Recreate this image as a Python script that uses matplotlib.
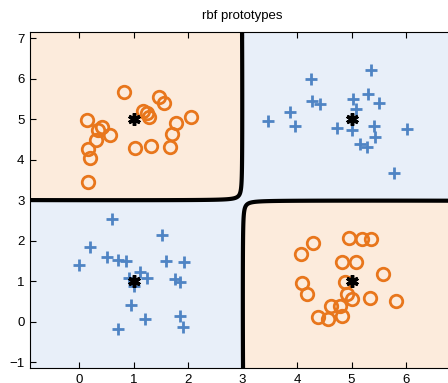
import numpy as np
import matplotlib.pyplot as plt

plt.rcParams['font.family'] = ['Liberation Sans', 'DejaVu Sans']

# class 1 (orange circles)
c1_x = [0.83, 0.15, 0.43, 0.34, 0.57, 0.31, 0.17, 0.21, 0.17, 1.03, 1.32, 1.18, 1.24, 1.29,
        1.46, 1.56, 1.78, 1.71, 1.67, 2.05,
        4.95, 5.20, 5.35, 4.30, 4.07, 4.83, 5.09, 5.57, 4.09, 4.88, 4.18, 4.91, 5.01, 5.34,
        5.81, 4.62, 4.78, 4.39, 4.57, 4.82]
c1_y = [5.68, 4.98, 4.82, 4.75, 4.61, 4.49, 4.26, 4.05, 3.45, 4.30, 4.34, 5.20, 5.15, 5.07,
        5.56, 5.41, 4.90, 4.64, 4.31, 5.05,
        2.08, 2.04, 2.04, 1.95, 1.67, 1.47, 1.47, 1.17, 0.95, 0.98, 0.68, 0.70, 0.56, 0.58,
        0.52, 0.40, 0.40, 0.13, 0.07, 0.15]

# class 2 (blue crosses)
c2_x = [5.36, 4.26, 5.31, 4.28, 4.43, 5.03, 5.51, 3.87, 5.08, 3.47, 3.96, 4.74, 5.00, 5.41,
        5.43, 6.02, 5.16, 5.28, 5.78,
        0.60, 1.52, 0.20, 0.51, 0.00, 0.72, 0.87, 1.59, 1.93, 1.11, 1.25, 0.91, 1.76, 1.85,
        1.00, 0.95, 1.21, 1.85, 0.71, 1.90]
c2_y = [6.21, 6.00, 5.64, 5.45, 5.39, 5.50, 5.41, 5.19, 5.27, 4.97, 4.84, 4.80, 4.75, 4.83,
        4.56, 4.76, 4.39, 4.31, 3.68,
        2.55, 2.14, 1.84, 1.61, 1.40, 1.53, 1.50, 1.50, 1.47, 1.24, 1.09, 1.09, 1.06, 0.98,
        0.88, 0.42, 0.07, 0.15, -0.17, -0.12]

# rbf prototypes and their class sign (+1 orange, -1 blue)
proto_x = [1, 5, 1, 5]
proto_y = [5, 1, 1, 5]
proto_sign = [1, 1, -1, -1]
sigma = 2.0
bias = 0.003


def rbf_output(x, y):
    out = np.zeros_like(x) - bias
    for px, py, s in zip(proto_x, proto_y, proto_sign):
        out += s * np.exp(-((x - px) ** 2 + (y - py) ** 2) / (2 * sigma ** 2))
    return out


xlim = (-0.9, 6.88)
ylim = (-1.14, 7.16)

fig = plt.figure(figsize=(4.48, 3.83), dpi=100)
ax = fig.add_axes([30 / 448, 15 / 383, 424 / 448, 336 / 383])

# background tint by predicted class + decision boundary
cx, cy = np.meshgrid(np.linspace(xlim[0], xlim[1], 400), np.linspace(ylim[0], ylim[1], 400))
cz = rbf_output(cx, cy)
ax.contourf(cx, cy, cz, levels=[cz.min() - 1, 0, cz.max() + 1], colors=['#e8eff9', '#fcebdc'])
ax.contour(cx, cy, cz, levels=[0], colors='black', linewidths=3)

ax.plot(c1_x, c1_y, 'o', mfc='none', mec='#e8761c', ms=9, mew=2)
ax.plot(c2_x, c2_y, '+', color='#4f84c4', ms=9, mew=2)
ax.plot(proto_x, proto_y, marker=(6, 2, 0), ls='none', color='black', ms=9, mew=2.5)

ax.set_xlim(xlim)
ax.set_ylim(ylim)
ax.set_xticks(range(0, 7))
ax.set_yticks(range(-1, 8))
ax.set_yticklabels(['\u22121'] + [str(v) for v in range(0, 8)])
ax.tick_params(direction='in', top=True, right=True, length=4, labelsize=9.5, pad=4)
ax.set_title('rbf prototypes', fontsize=9.5, pad=9)

fig.savefig('out.png', dpi=100)
